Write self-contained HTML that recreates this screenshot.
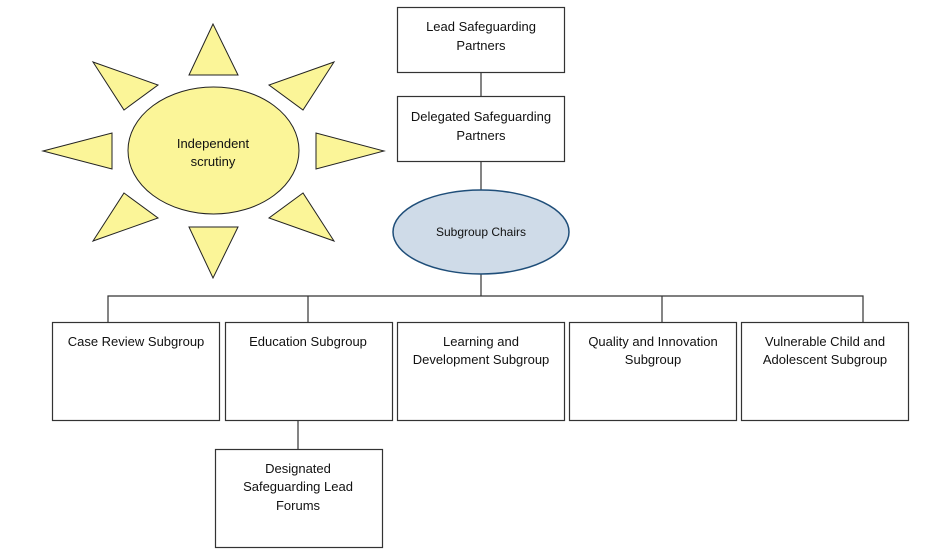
<!DOCTYPE html>
<html><head><meta charset="utf-8"><style>
html,body{margin:0;padding:0;background:#fff;}
svg{display:block;}
text{font-family:"Liberation Sans",sans-serif;font-size:13px;fill:#111;text-anchor:middle;}
</style></head><body>
<svg width="951" height="549" viewBox="0 0 951 549" xmlns="http://www.w3.org/2000/svg">
<g fill="#fbf598" stroke="#222" stroke-width="1">
<polygon points="213,24 189,75 238,75"/>
<polygon points="93,62 158,85 124,110"/>
<polygon points="334,62 269,85 303,110"/>
<polygon points="43,151 112,133 112,169"/>
<polygon points="384,151 316,133 316,169"/>
<polygon points="124,193 158,218 93,241"/>
<polygon points="303,193 269,218 334,241"/>
<polygon points="189,227 238,227 213,278"/>
<ellipse cx="213.5" cy="150.5" rx="85.5" ry="63.5"/>
</g>
<text x="213" y="148">Independent</text>
<text x="213" y="166">scrutiny</text>
<g fill="none" stroke="#333" stroke-width="1.2">
<line x1="481" y1="72" x2="481" y2="96"/>
<line x1="481" y1="161" x2="481" y2="190"/>
<line x1="481" y1="274" x2="481" y2="296"/>
<polyline points="108,322 108,296 863,296 863,322"/>
<line x1="308" y1="296" x2="308" y2="322"/>
<line x1="662" y1="296" x2="662" y2="322"/>
<line x1="298" y1="420" x2="298" y2="449"/>
</g>
<g fill="#fff" stroke="#333" stroke-width="1.2">
<rect x="397.5" y="7.5" width="167" height="65"/>
<rect x="397.5" y="96.5" width="167" height="65"/>
<rect x="52.5" y="322.5" width="167" height="98"/>
<rect x="225.5" y="322.5" width="167" height="98"/>
<rect x="397.5" y="322.5" width="167" height="98"/>
<rect x="569.5" y="322.5" width="167" height="98"/>
<rect x="741.5" y="322.5" width="167" height="98"/>
<rect x="215.5" y="449.5" width="167" height="98"/>
</g>
<ellipse cx="481" cy="232" rx="88" ry="42" fill="#cfdbe8" stroke="#1f4e79" stroke-width="1.5"/>
<text x="481" y="236" style="font-size:12px">Subgroup Chairs</text>
<text x="481" y="31">Lead Safeguarding</text>
<text x="481" y="50">Partners</text>
<text x="481" y="121">Delegated Safeguarding</text>
<text x="481" y="140">Partners</text>
<text x="136" y="346">Case Review Subgroup</text>
<text x="308" y="346">Education Subgroup</text>
<text x="481" y="346">Learning and</text>
<text x="481" y="364">Development Subgroup</text>
<text x="653" y="346">Quality and Innovation</text>
<text x="653" y="364">Subgroup</text>
<text x="825" y="346">Vulnerable Child and</text>
<text x="825" y="364">Adolescent Subgroup</text>
<text x="298" y="473">Designated</text>
<text x="298" y="491">Safeguarding Lead</text>
<text x="298" y="510">Forums</text>
</svg>
</body></html>
